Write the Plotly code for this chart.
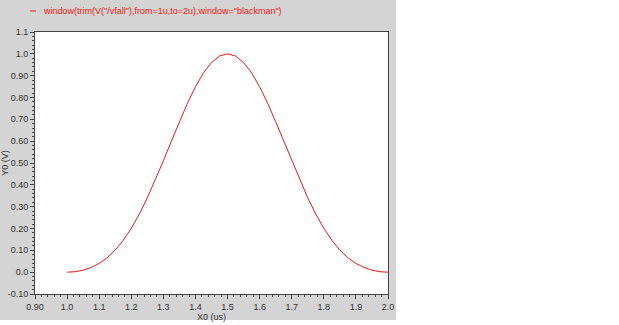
import plotly.graph_objects as go

# Data (Blackman window over 1us..2us)
x_us = [1.000, 1.025, 1.050, 1.075, 1.100, 1.125, 1.150, 1.175, 1.200, 1.225,
        1.250, 1.275, 1.300, 1.325, 1.350, 1.375, 1.400, 1.425, 1.450, 1.475,
        1.500, 1.525, 1.550, 1.575, 1.600, 1.625, 1.650, 1.675, 1.700, 1.725,
        1.750, 1.775, 1.800, 1.825, 1.850, 1.875, 1.900, 1.925, 1.950, 1.975, 2.000]
y_v = [0.000, 0.002, 0.009, 0.022, 0.040, 0.066, 0.101, 0.146, 0.201, 0.266,
       0.340, 0.422, 0.510, 0.600, 0.689, 0.774, 0.849, 0.913, 0.960, 0.990,
       1.000, 0.990, 0.960, 0.913, 0.849, 0.774, 0.689, 0.600, 0.510, 0.422,
       0.340, 0.266, 0.201, 0.146, 0.101, 0.066, 0.040, 0.022, 0.009, 0.002, 0.000]

x_tickvals = [0.9, 1.0, 1.1, 1.2, 1.3, 1.4, 1.5, 1.6, 1.7, 1.8, 1.9, 2.0]
x_ticktext = ["0.90", "1.0", "1.1", "1.2", "1.3", "1.4", "1.5", "1.6", "1.7", "1.8", "1.9", "2.0"]
y_tickvals = [-0.1, 0.0, 0.1, 0.2, 0.3, 0.4, 0.5, 0.6, 0.7, 0.8, 0.9, 1.0, 1.1]
y_ticktext = ["-0.10", "0.0", "0.10", "0.20", "0.30", "0.40", "0.50", "0.60", "0.70",
              "0.80", "0.90", "1.0", "1.1"]
legend_label = 'window(trim(V("/vfall"),from=1u,to=2u),window="blackman")'

W, H = 619, 325
L, R, T, B = 35, 388, 32, 294
pw, ph = R - L, B - T

def px(xp):
    return (xp - L) / pw

def py(yp):
    return (B - yp) / ph

RED = "#f01818"
FONT = "Liberation Sans"

fig = go.Figure()
fig.add_trace(go.Scatter(x=x_us, y=y_v, mode="lines", line=dict(color=RED, width=1),
                         showlegend=False, name=legend_label))

axis_common = dict(
    showgrid=False, zeroline=False, showline=True, mirror=True, automargin=False,
    linecolor="#444444", linewidth=1,
    ticks="outside", ticklen=4, tickcolor="#444444", tickwidth=1,
    tickfont=dict(family=FONT, size=9, color="#333333"),
)

fig.update_xaxes(range=[0.9, 2.0], tickmode="array", tickvals=x_tickvals, ticktext=x_ticktext,
                 minor=dict(dtick=0.02, tick0=0.9, ticks="outside", ticklen=2, tickcolor="#444444"),
                 title=dict(text="X0 (us)", font=dict(family=FONT, size=9, color="#333333"), standoff=2),
                 **axis_common)
fig.update_yaxes(range=[-0.1, 1.1], tickmode="array", tickvals=y_tickvals, ticktext=y_ticktext,
                 minor=dict(dtick=0.02, tick0=-0.1, ticks="outside", ticklen=2, tickcolor="#444444"),
                 title=dict(text="Y0 (V)", font=dict(family=FONT, size=9, color="#333333"), standoff=2),
                 **axis_common)

fig.update_layout(
    width=W, height=H,
    margin=dict(l=L, r=W - R, t=T, b=H - B, pad=0),
    paper_bgcolor="white", plot_bgcolor="white",
    shapes=[
        dict(type="rect", xref="paper", yref="paper", layer="below",
             x0=px(0), x1=px(396), y0=py(320), y1=py(0),
             fillcolor="#d4d4d4", line=dict(width=0)),
        dict(type="rect", xref="paper", yref="paper", layer="below",
             x0=0, x1=1, y0=0, y1=1,
             fillcolor="white", line=dict(width=0)),
        dict(type="line", xref="paper", yref="paper",
             x0=px(30), x1=px(36), y0=py(11), y1=py(11),
             line=dict(color=RED, width=1)),
    ],
    annotations=[
        dict(text=legend_label, xref="paper", yref="paper", x=px(41), y=py(11),
             xanchor="left", yanchor="middle", showarrow=False,
             font=dict(family=FONT, size=9, color=RED)),
    ],
)

fig.write_html("out.html")
